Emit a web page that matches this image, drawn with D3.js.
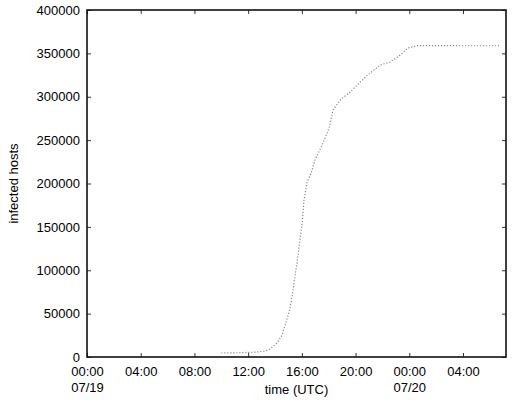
<!DOCTYPE html>
<html>
<head>
<meta charset="utf-8">
<script src="https://cdn.jsdelivr.net/npm/d3@7"></script>
<style>
  body { margin: 0; background: #fff; }
  svg text { font-family: "Liberation Sans", Arial, sans-serif; }
</style>
</head>
<body>
<svg id="chart" width="512" height="403"></svg>
<script>
// hours since 2001-07-19 00:00 UTC
const hours = [10.0, 11.5, 12.66, 13.26, 13.63, 14.15, 14.53, 14.82, 15.05, 15.27, 15.42, 15.64,
  15.72, 16.02, 16.16, 16.39, 16.69, 16.98, 17.51, 17.88, 18.03, 18.32, 18.85, 19.59, 20.34,
  21.08, 21.83, 22.57, 23.32, 23.91, 24.58, 26, 28, 30.76];
const hosts = [4600, 5000, 5700, 6900, 9200, 16100, 25400, 40300, 51900, 69200, 86500, 108400,
  118000, 154500, 181000, 201700, 212100, 227100, 244400, 258200, 264000, 284700, 296200, 305500, 317000,
  327400, 336600, 340000, 348100, 356200, 359000, 358900, 358800, 358800];
const yTicks = [0, 50000, 100000, 150000, 200000, 250000, 300000, 350000, 400000];

const start = new Date(Date.UTC(2001, 6, 19, 0, 0));
const end = new Date(Date.UTC(2001, 6, 20, 7, 12));
const data = hours.map((h, i) => ({ t: new Date(start.getTime() + h * 3600e3), v: hosts[i] }));

const svg = d3.select('#chart');
const margin = { top: 10, right: 6, bottom: 46, left: 87 };
const width = 512 - margin.left - margin.right;
const height = 403 - margin.top - margin.bottom;
const g = svg.append('g').attr('transform', `translate(${margin.left},${margin.top})`);

const x = d3.scaleUtc().domain([start, end]).range([0, width]);
const y = d3.scaleLinear().domain([0, 400000]).range([height, 0]);
const xTicks = x.ticks(d3.utcHour.every(4));

// bottom axis, ticks pointing in
const xAxis = g.append('g')
  .attr('transform', `translate(0,${height})`)
  .call(d3.axisBottom(x).tickValues(xTicks).tickSize(-4).tickPadding(10).tickFormat(''));
xAxis.select('.domain').remove();
xAxis.selectAll('.tick').each(function (d) {
  const t = d3.select(this).append('text')
    .attr('fill', '#000').attr('font-size', 13).attr('text-anchor', 'middle').attr('y', 19);
  t.append('tspan').attr('x', 0).text(d3.utcFormat('%H:%M')(d));
  if (d.getUTCHours() === 0) t.append('tspan').attr('x', 0).attr('dy', 16).text(d3.utcFormat('%m/%d')(d));
});

// top mirror ticks
const xTop = g.append('g').call(d3.axisTop(x).tickValues(xTicks).tickSize(-4).tickFormat(''));
xTop.select('.domain').remove();

// left axis
const yAxis = g.append('g')
  .call(d3.axisLeft(y).tickValues(yTicks).tickSize(-4).tickPadding(7).tickFormat(d3.format('d')));
yAxis.select('.domain').remove();
yAxis.selectAll('text').attr('font-size', 13).attr('fill', '#000');

// right mirror ticks
const yRight = g.append('g').attr('transform', `translate(${width},0)`)
  .call(d3.axisRight(y).tickValues(yTicks).tickSize(-4).tickFormat(''));
yRight.select('.domain').remove();

g.selectAll('.tick line').attr('stroke', '#333');

// frame
g.append('rect')
  .attr('width', width).attr('height', height)
  .attr('fill', 'none').attr('stroke', '#111').attr('stroke-width', 1.6);

// curve
const line = d3.line().x(d => x(d.t)).y(d => y(d.v));
g.append('path')
  .datum(data)
  .attr('d', line)
  .attr('fill', 'none')
  .attr('stroke', '#888')
  .attr('stroke-width', 1.2)
  .attr('stroke-dasharray', '1.2,1.8');

// axis titles
svg.append('text')
  .attr('x', margin.left + width / 2).attr('y', 394)
  .attr('text-anchor', 'middle').attr('font-size', 13)
  .text('time (UTC)');
svg.append('text')
  .attr('transform', `translate(18,${margin.top + height / 2}) rotate(-90)`)
  .attr('text-anchor', 'middle').attr('font-size', 13)
  .text('infected hosts');
</script>
</body>
</html>
